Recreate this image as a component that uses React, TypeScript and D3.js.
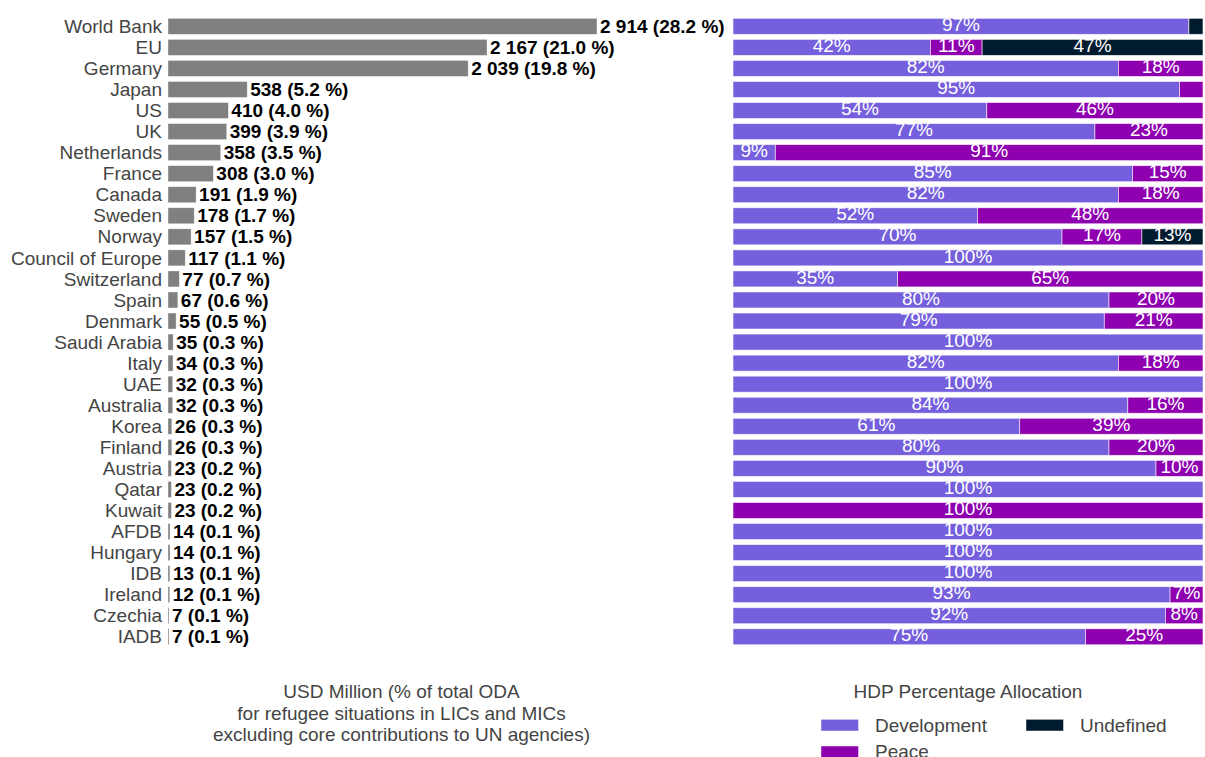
import React from "react";
import * as d3 from "d3";

const donors = ["World Bank","EU","Germany","Japan","US","UK","Netherlands","France","Canada","Sweden","Norway","Council of Europe","Switzerland","Spain","Denmark","Saudi Arabia","Italy","UAE","Australia","Korea","Finland","Austria","Qatar","Kuwait","AFDB","Hungary","IDB","Ireland","Czechia","IADB"];
const usdMillion = [2914,2167,2039,538,410,399,358,308,191,178,157,117,77,67,55,35,34,32,32,26,26,23,23,23,14,14,13,12,7,7];
const shareOfTotal = [28.2,21.0,19.8,5.2,4.0,3.9,3.5,3.0,1.9,1.7,1.5,1.1,0.7,0.6,0.5,0.3,0.3,0.3,0.3,0.3,0.3,0.2,0.2,0.2,0.1,0.1,0.1,0.1,0.1,0.1];
const development = [97,42,82,95,54,77,9,85,82,52,70,100,35,80,79,100,82,100,84,61,80,90,100,0,100,100,100,93,92,75];
const peace = [0,11,18,5,46,23,91,15,18,48,17,0,65,20,21,0,18,0,16,39,20,10,0,100,0,0,0,7,8,25];
const undefinedShare = [3,47,0,0,0,0,0,0,0,0,13,0,0,0,0,0,0,0,0,0,0,0,0,0,0,0,0,0,0,0];

const seriesKeys = ["Development","Peace","Undefined"];
const seriesColors = ["#755FDD","#8E00AF","#001B2E"];
const leftTitle = ["USD Million (% of total ODA","for refugee situations in LICs and MICs","excluding core contributions to UN agencies)"];
const legendTitle = "HDP Percentage Allocation";

const FONT = "'Liberation Sans', Arial, sans-serif";
const FS = 19;

export default function App() {
  const W = 1205, H = 757;
  const rows = donors.map((d, i) => ({
    donor: d, value: usdMillion[i], share: shareOfTotal[i],
    Development: development[i], Peace: peace[i], Undefined: undefinedShare[i],
  }));
  const y = d3.scaleBand<string>().domain(donors).range([15.8, 647.3]).paddingInner(0.24).paddingOuter(0.12);
  const xL = d3.scaleLinear().domain([0, 2914]).range([168, 597]);
  const xR = d3.scaleLinear().domain([0, 100]).range([733, 1203]);
  const stack = d3.stack<any>().keys(seriesKeys)(rows);
  const loc = d3.formatLocale({ decimal: ".", thousands: " ", grouping: [3], currency: ["", ""] });
  const fmtInt = loc.format(",d");
  const fmtPct = d3.format(".1f");
  const bw = y.bandwidth();

  return (
    <svg width={W} height={H} style={{ position: "absolute", left: 0, top: 0 }} fontFamily={FONT}>
      {rows.map((r) => {
        const yy = y(r.donor)!;
        const cy = yy + bw / 2;
        return (
          <g key={r.donor}>
            <text x={162} y={cy} dy="0.35em" textAnchor="end" fontSize={FS} fill="#444">{r.donor}</text>
            <rect x={xL(0)} y={yy} width={Math.max(0, xL(r.value) - xL(0))} height={bw} fill="#808080" stroke="#fff" strokeOpacity={0.6} strokeWidth={0.6} />
            <text x={xL(r.value) + 3} y={cy} dy="0.35em" fontSize={FS} fontWeight="bold" fill="#000">
              {`${fmtInt(r.value)} (${fmtPct(r.share)} %)`}
            </text>
          </g>
        );
      })}
      {stack.map((s, si) => (
        <g key={seriesKeys[si]}>
          {s.map((seg, i) => {
            const v = seg[1] - seg[0];
            if (v <= 0) return null;
            const x0 = xR(seg[0]), x1 = xR(seg[1]);
            const yy = y(donors[i])!;
            return (
              <g key={i}>
                <rect x={x0} y={yy} width={x1 - x0} height={bw} fill={seriesColors[si]} stroke="#fff" strokeOpacity={0.7} strokeWidth={0.8} />
                {v > 6 && (
                  <text x={(x0 + x1) / 2} y={yy + bw / 2 - 2} dy="0.35em" textAnchor="middle" fontSize={FS} fill="#fff">{`${v}%`}</text>
                )}
              </g>
            );
          })}
        </g>
      ))}
      {leftTitle.map((t, i) => (
        <text key={i} x={401.5} y={698.3 + i * 21.4} textAnchor="middle" fontSize={FS} fill="#444">{t}</text>
      ))}
      <text x={968} y={698.3} textAnchor="middle" fontSize={FS} fill="#444">{legendTitle}</text>
      {seriesKeys.map((k, i) => {
        const col = i === 2 ? 1 : 0;
        const row = i === 1 ? 1 : 0;
        const sx = 821 + col * 205;
        const sy = 719.3 + row * 26.7;
        return (
          <g key={k}>
            <rect x={sx} y={sy} width={37.5} height={11.7} fill={seriesColors[i]} stroke="#fff" strokeOpacity={0.6} strokeWidth={0.8} />
            <text x={sx + 54} y={sy + 12.4} fontSize={FS} fill="#444">{k}</text>
          </g>
        );
      })}
    </svg>
  );
}
